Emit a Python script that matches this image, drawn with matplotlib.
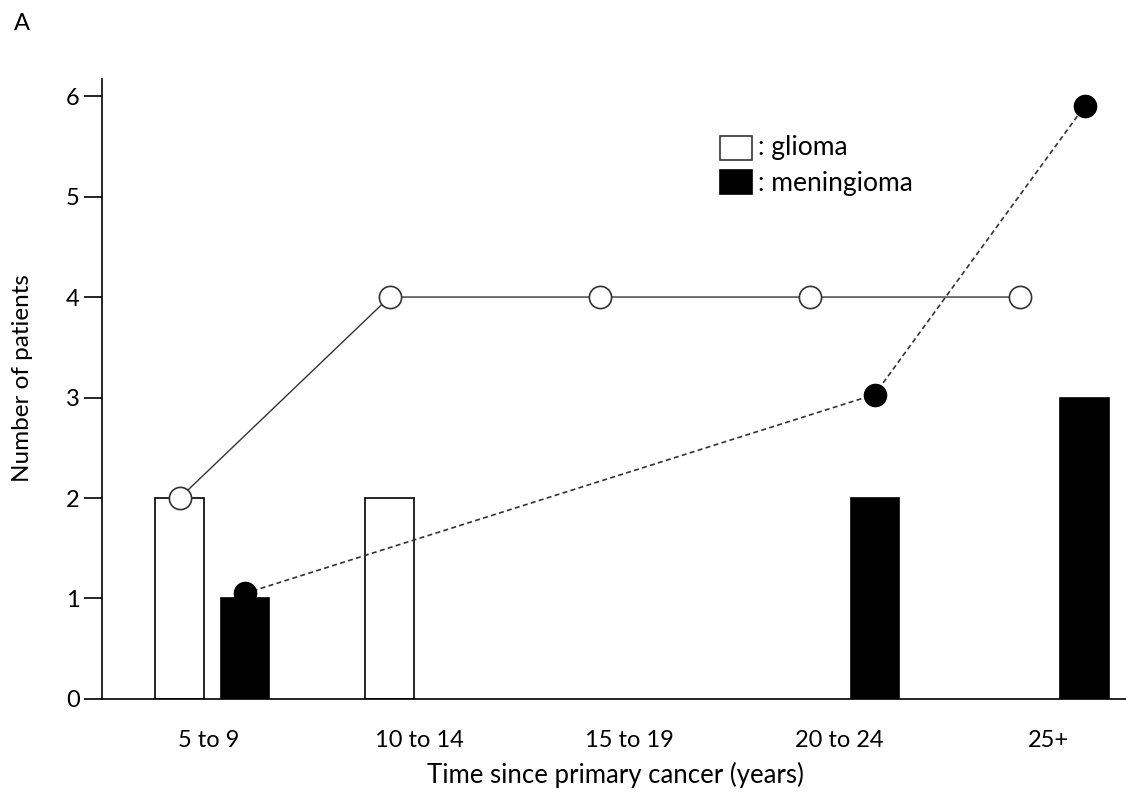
import numpy as np
import matplotlib.pyplot as plt
from matplotlib import font_manager

# patients per interval since primary cancer
periods = ['5 to 9', '10 to 14', '15 to 19', '20 to 24', '25+']
glioma = [2, 2, 0, 0, 0]
meningioma = [1, 0, 0, 2, 3]

# cumulative curves (as plotted)
glioma_cum = [2, 4, 4, 4, 4]
mening_cum_idx = [0, 3, 4]
mening_cum = [1.05, 3.03, 5.9]

names = {f.name for f in font_manager.fontManager.ttflist}
base = 'Lato' if 'Lato' in names else 'DejaVu Sans'
plt.rcParams['font.family'] = base

fig = plt.figure(figsize=(11.26, 7.99), dpi=100)
ax = fig.add_axes([0.0906, 0.1252, 0.9094, 0.7759])

x = np.arange(len(periods))
w = 0.23
og, om = -0.14, 0.17

g = np.array(glioma)
m = np.array(meningioma)
ax.bar(x[g > 0] + og, g[g > 0], width=w, color='white', edgecolor='black',
       linewidth=1.2, zorder=2)
ax.bar(x[m > 0] + om, m[m > 0], width=w, color='black', edgecolor='black',
       linewidth=1.2, zorder=2)

ax.plot(x + og, glioma_cum, color='#333333', linewidth=1.0, marker='o', ms=16,
        markerfacecolor='white', markeredgecolor='#333333', markeredgewidth=1.2, zorder=3)
ax.plot(np.array(mening_cum_idx) + om, mening_cum, color='#333333', linewidth=1.2,
        linestyle=(0, (3, 2)), marker='o', ms=16, markerfacecolor='black',
        markeredgecolor='black', zorder=3)

ax.set_xlim(-0.5095, 4.367)
ax.set_ylim(0, 6.17)
ax.set_xticks(x)
ax.set_xticklabels(periods, fontsize=17)
ax.set_yticks(range(7))
ax.tick_params(axis='x', length=0, pad=22)
ax.tick_params(axis='y', length=13, width=1.2, direction='out', labelsize=17, pad=3)
for s in ['top', 'right']:
    ax.spines[s].set_visible(False)
ax.spines['left'].set_linewidth(1.2)
ax.spines['bottom'].set_linewidth(1.2)

fig.text(615 / 1126, 1 - 775 / 799, 'Time since primary cancer (years)',
         fontsize=18.5, ha='center', va='center')
fig.text(23 / 1126, 1 - 378 / 799, 'Number of patients', fontsize=17.5,
         rotation=90, ha='center', va='center')

# hand-drawn style key
fig.patches.append(plt.Rectangle((720 / 1126, 1 - 160 / 799), 32 / 1126, 24 / 799,
                                 transform=fig.transFigure, facecolor='white',
                                 edgecolor='#333333', linewidth=1.2))
fig.patches.append(plt.Rectangle((720 / 1126, 1 - 194 / 799), 32 / 1126, 24 / 799,
                                 transform=fig.transFigure, facecolor='black',
                                 edgecolor='black', linewidth=1.2))
fig.text(758 / 1126, 1 - 148 / 799, ': glioma', fontsize=19, va='center')
fig.text(758 / 1126, 1 - 183 / 799, ': meningioma', fontsize=19, va='center')

fig.text(14 / 1126, 1 - 24 / 799, 'A', fontsize=17, va='center')

fig.savefig('out.png', dpi=100)
